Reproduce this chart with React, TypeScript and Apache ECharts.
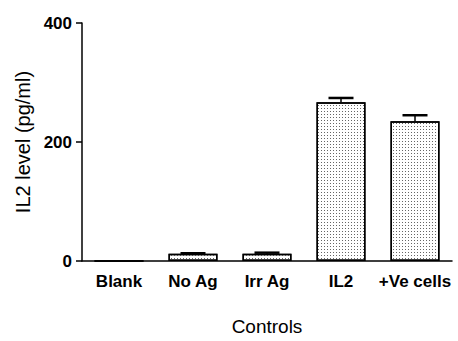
import React, { useEffect, useRef } from "react";
import * as echarts from "echarts";

const categories = ["Blank", "No Ag", "Irr Ag", "IL2", "+Ve cells"];
const values = [0, 12, 12, 267, 235];
const errors = [0, 1, 2, 7, 10];
const yTicks = [0, 200, 400];

export default function App() {
  const ref = useRef<HTMLDivElement>(null);
  useEffect(() => {
    if (!ref.current) return;
    const chart = echarts.init(ref.current, null, { renderer: "svg" });
    const font = "'Liberation Sans', Arial, sans-serif";
    chart.setOption({
      animation: false,
      backgroundColor: "#ffffff",
      grid: { left: 82, right: 6, top: 23, bottom: 74 },
      xAxis: {
        type: "category",
        data: categories,
        name: "Controls",
        nameLocation: "middle",
        nameGap: 56,
        nameTextStyle: { fontFamily: font, fontSize: 19, color: "#000" },
        axisLine: { lineStyle: { color: "#000", width: 1.5 } },
        axisTick: { show: false },
        axisLabel: { interval: 0, fontFamily: font, fontSize: 17, fontWeight: "bold", color: "#000", margin: 12 },
      },
      yAxis: {
        type: "value",
        min: yTicks[0],
        max: yTicks[yTicks.length - 1],
        interval: 200,
        name: "IL2 level (pg/ml)",
        nameLocation: "middle",
        nameGap: 48,
        nameTextStyle: { fontFamily: font, fontSize: 20, color: "#000" },
        splitLine: { show: false },
        axisLine: { show: true, lineStyle: { color: "#000", width: 1.5 } },
        axisTick: { show: true, length: 6, lineStyle: { color: "#000", width: 1.5 } },
        axisLabel: { fontFamily: font, fontSize: 17, fontWeight: "bold", color: "#000", margin: 10 },
      },
      series: [
        {
          type: "bar",
          data: values,
          barWidth: 49,
          itemStyle: {
            color: "#ffffff",
            borderColor: "#000",
            borderWidth: 1.5,
            decal: {
              symbol: "rect",
              symbolSize: 1,
              dashArrayX: [1, 2],
              dashArrayY: [1, 2],
              color: "#666666",
              rotation: 0,
            },
          },
          z: 2,
        },
        {
          type: "custom",
          data: values.map((v, i) => [i, v, errors[i]]),
          z: 3,
          renderItem: (params: any, api: any) => {
            const i = api.value(0);
            const v = api.value(1);
            const e = api.value(2);
            if (!e) return null;
            const p0 = api.coord([i, v]);
            const p1 = api.coord([i, v + e]);
            const half = 12.5;
            return {
              type: "group",
              children: [
                {
                  type: "line",
                  shape: { x1: p0[0], y1: p0[1], x2: p1[0], y2: p1[1] },
                  style: { stroke: "#000", lineWidth: 1.5 },
                },
                {
                  type: "line",
                  shape: { x1: p1[0] - half, y1: p1[1], x2: p1[0] + half, y2: p1[1] },
                  style: { stroke: "#000", lineWidth: 2.5 },
                },
              ],
            };
          },
        },
      ],
    });
    return () => chart.dispose();
  }, []);
  return <div ref={ref} style={{ width: 458, height: 341, position: "absolute", left: 0, top: 0 }} />;
}
